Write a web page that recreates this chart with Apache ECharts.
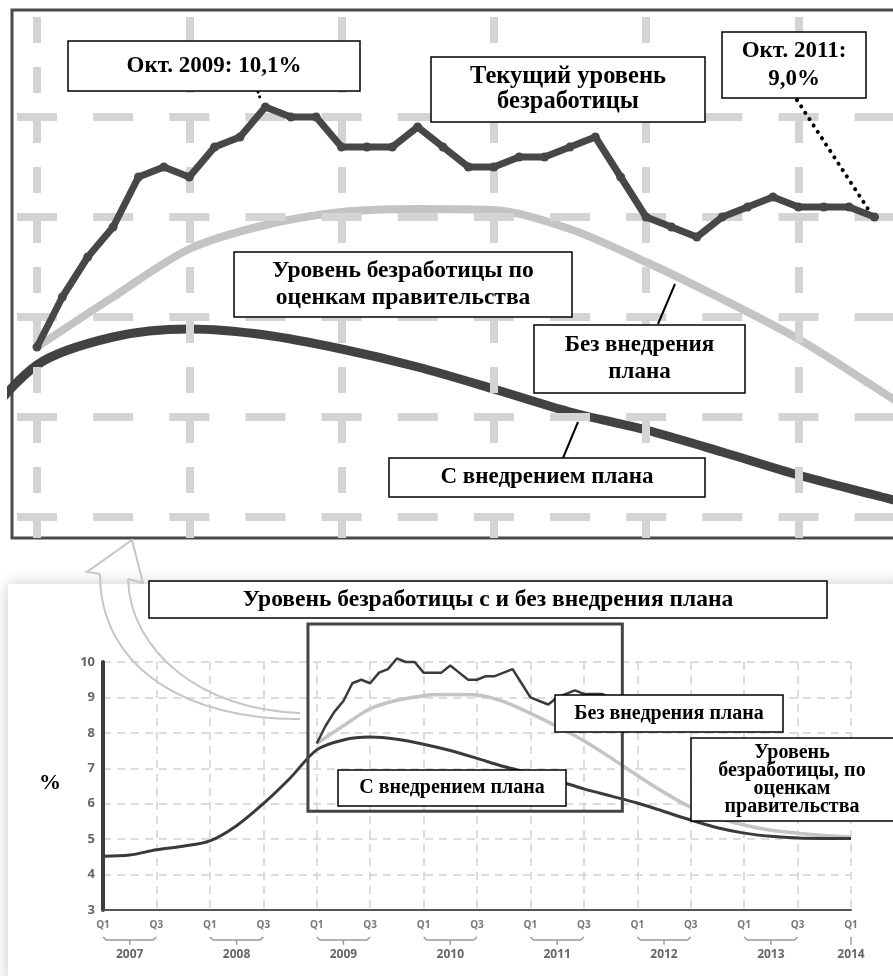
<!DOCTYPE html>
<html>
<head>
<meta charset="utf-8">
<script src="https://cdn.jsdelivr.net/npm/echarts@6/dist/echarts.min.js"></script>
<style>
  html, body { margin: 0; padding: 0; background: #fff; }
  #main { width: 893px; height: 976px; }
</style>
</head>
<body>
<div id="main"></div>
<script>
// годы в долях: 2007 = Q1 2007, 2007.5 = Q3 2007
var quarterX = [2007, 2007.25, 2007.5, 2007.75, 2008, 2008.25, 2008.5, 2008.75,
  2009, 2009.25, 2009.5, 2009.75, 2010, 2010.25, 2010.5, 2010.75,
  2011, 2011.25, 2011.5, 2011.75, 2012, 2012.25, 2012.5, 2012.75,
  2013, 2013.25, 2013.5, 2013.75, 2014];
// С внедрением плана
var withPlan = [4.52, 4.55, 4.7, 4.8, 4.95, 5.38, 6.0, 6.72,
  7.52, 7.8, 7.88, 7.82, 7.68, 7.5, 7.28, 7.05,
  6.87, 6.65, 6.42, 6.22, 6.02, 5.78, 5.54, 5.32,
  5.17, 5.08, 5.03, 5.02, 5.02];
// Без внедрения плана (с Q1 2009)
var noPlanX = quarterX.slice(8);
var noPlan = [7.7, 8.2, 8.68, 8.92, 9.05, 9.08, 9.07, 8.88,
  8.55, 8.18, 7.78, 7.3, 6.8, 6.32, 5.9, 5.6,
  5.4, 5.25, 5.17, 5.1, 5.06];
// Текущий уровень безработицы, помесячно с января 2009
var actualStart = 2009;
var actual = [7.7, 8.2, 8.6, 8.9, 9.4, 9.5, 9.4, 9.7, 9.8, 10.1, 10.0, 10.0,
  9.7, 9.7, 9.7, 9.9, 9.7, 9.5, 9.5, 9.6, 9.6, 9.7, 9.8, 9.4,
  9.0, 8.9, 8.8, 9.0, 9.1, 9.2, 9.1, 9.1, 9.1, 9.0];
var years = [2007, 2008, 2009, 2010, 2011, 2012, 2013, 2014];
// увеличенный фрагмент (верхний график)
var zoomX = [2008.918, 2011.86];
var zoomY = [5.79, 11.07];
var topGridX = [2009, 2009.5, 2010, 2010.5, 2011, 2011.5];
var topGridY = [6, 7, 8, 9, 10];

function pairs(xs, ys) {
  return ys.map(function (v, i) { return [xs[i], v]; });
}
var withPlanData = pairs(quarterX, withPlan);
var noPlanData = pairs(noPlanX, noPlan);
var actualData = actual.map(function (v, i) { return [actualStart + i / 12, v]; });

// скобки под подписями кварталов
var bracketData = [];
years.slice(0, -1).forEach(function (y) {
  bracketData.push([y, 0.5], [y + 0.03, 0], [y + 0.47, 0], [y + 0.5, 0.5], [y + 0.5, '-'],
    [y + 0.25, 0], [y + 0.25, -0.8], [y + 0.25, '-']);
});
bracketData.push([2014, 0.5], [2014, -0.8]);

var chart = echarts.init(document.getElementById('main'));

var dark = '#424242';
var light = '#c4c4c4';
var serif = '"Liberation Serif", "Times New Roman", serif';

function font(size) { return 'bold ' + size + 'px ' + serif; }

function box(id, x, y, w, h, text, size, lh, tx) {
  return {
    type: 'group', id: id,
    children: [
      { type: 'rect', z: 100, shape: { x: x, y: y, width: w, height: h },
        style: { fill: '#fff', stroke: '#000', lineWidth: 1.5 } },
      { type: 'text', z: 101,
        style: { text: text, x: tx || x + w / 2, y: y + h / 2, textAlign: 'center',
          textVerticalAlign: 'middle', verticalAlign: 'middle',
          font: font(size), fill: '#000', lineHeight: lh || size } }
    ]
  };
}

function gridMarks() {
  var d = [];
  topGridX.forEach(function (v) {
    d.push({ xAxis: v, lineStyle: { type: [26, 24], dashOffset: 5 } });
  });
  topGridY.forEach(function (v) {
    d.push({ yAxis: v, lineStyle: { type: [40, 36.15], dashOffset: -5 } });
  });
  return d;
}

var option = {
  animation: false,
  backgroundColor: '#fff',
  grid: [
    { left: 12, top: 10, right: -15, bottom: 438, show: true, borderColor: '#4a4a4a',
      borderWidth: 3, backgroundColor: 'rgba(0,0,0,0)', outerBoundsMode: 'none', containLabel: false },
    { left: 103, top: 662, right: 42, bottom: 66, outerBoundsMode: 'none', containLabel: false },
    { left: 103, top: 934, right: 42, height: 12, outerBoundsMode: 'none', containLabel: false }
  ],
  xAxis: [
    { type: 'value', gridIndex: 0, min: zoomX[0], max: zoomX[1], show: false },
    { type: 'value', gridIndex: 1, min: 2007, max: 2014, interval: 0.5,
      axisLine: { show: true, onZero: false, lineStyle: { color: '#555', width: 2 } },
      axisTick: { show: false },
      axisLabel: { margin: 10, fontSize: 10, fontWeight: 'bold', color: '#777', fontFamily: 'Open Sans',
        formatter: function (v) { return (v % 1 === 0) ? 'Q1' : 'Q3'; } },
      splitLine: { show: true, lineStyle: { color: '#d2d2d2', width: 1.5, type: [8, 6] } } },
    { type: 'value', gridIndex: 2, min: 2007, max: 2014, interval: 0.25,
      axisLine: { show: false }, axisTick: { show: false }, splitLine: { show: false },
      axisLabel: { margin: 3, fontSize: 12, fontWeight: 'bold', color: '#666', fontFamily: 'Open Sans',
        formatter: function (v) {
          var f = v - Math.floor(v);
          if (Math.abs(f - 0.25) < 1e-6) return String(Math.floor(v));
          if (v === 2014) return '2014';
          return '';
        } } }
  ],
  yAxis: [
    { type: 'value', gridIndex: 0, min: zoomY[0], max: zoomY[1], show: false },
    { type: 'value', gridIndex: 1, min: 3, max: 10, interval: 1,
      axisLine: { show: true, lineStyle: { color: '#3c3c3c', width: 4 } },
      axisTick: { show: false },
      axisLabel: { margin: 8, fontSize: 13, fontWeight: 'bold', color: '#666', fontFamily: 'Open Sans' },
      splitLine: { show: true, lineStyle: { color: '#d2d2d2', width: 1.5, type: [8, 6] } } },
    { type: 'value', gridIndex: 2, min: -1, max: 1, show: false }
  ],
  series: [
    // сетка верхнего графика
    { type: 'line', xAxisIndex: 0, yAxisIndex: 0, z: 1, data: noPlanData, symbol: 'none',
      lineStyle: { opacity: 0 }, silent: true,
      markLine: { silent: true, symbol: 'none', label: { show: false },
        lineStyle: { color: '#d4d4d4', width: 8 }, data: gridMarks() } },
    { type: 'line', xAxisIndex: 0, yAxisIndex: 0, z: 3, data: noPlanData, symbol: 'none',
      smooth: 0.3, lineStyle: { color: light, width: 8 } },
    { type: 'line', xAxisIndex: 0, yAxisIndex: 0, z: 4, data: withPlanData, symbol: 'none',
      smooth: 0.3, lineStyle: { color: dark, width: 9 } },
    { type: 'line', xAxisIndex: 0, yAxisIndex: 0, z: 5, data: actualData, symbol: 'circle',
      symbolSize: 9, itemStyle: { color: '#474747' }, lineStyle: { color: '#474747', width: 7 } },
    // нижний график
    { type: 'line', xAxisIndex: 1, yAxisIndex: 1, z: 3, data: noPlanData, symbol: 'none',
      smooth: 0.3, clip: false, lineStyle: { color: light, width: 3.5 } },
    { type: 'line', xAxisIndex: 1, yAxisIndex: 1, z: 4, data: withPlanData, symbol: 'none',
      smooth: 0.3, clip: false, lineStyle: { color: '#3a3a3a', width: 3 } },
    { type: 'line', xAxisIndex: 1, yAxisIndex: 1, z: 5, data: actualData, symbol: 'none',
      clip: false, lineStyle: { color: '#3a3a3a', width: 2.5 } },
    { type: 'line', xAxisIndex: 2, yAxisIndex: 2, data: bracketData, symbol: 'none',
      connectNulls: false, clip: false, lineStyle: { color: '#9a9a9a', width: 1.5 } }
  ]
};
chart.setOption(option);

// рамка увеличенного фрагмента на нижнем графике
var p1 = chart.convertToPixel({ gridIndex: 1 }, [zoomX[0], zoomY[1]]);
var p2 = chart.convertToPixel({ gridIndex: 1 }, [zoomX[1], zoomY[0]]);

var arrowStyle = { fill: 'none', stroke: '#c6c6c6', lineWidth: 2 };

chart.setOption({
  graphic: [
    { type: 'rect', id: 'panel', z: -1, shape: { x: 8, y: 584, width: 900, height: 400 },
      style: { fill: '#fff', shadowBlur: 14, shadowColor: 'rgba(0,0,0,0.22)' } },
    // изогнутая стрелка
    { type: 'polyline', id: 'arrowHead', z: 1,
      shape: { points: [[128, 579], [143, 583], [132, 540], [87, 572], [100, 574]] },
      style: arrowStyle },
    { type: 'bezierCurve', id: 'arrowIn', z: 1,
      shape: { x1: 128, y1: 579, cpx1: 130, cpy1: 650, cpx2: 200, cpy2: 710, x2: 300, y2: 713 },
      style: arrowStyle },
    { type: 'bezierCurve', id: 'arrowOut', z: 1,
      shape: { x1: 300, y1: 719, cpx1: 190, cpy1: 720, cpx2: 100, cpy2: 670, x2: 100, y2: 574 },
      style: arrowStyle },
    { type: 'rect', id: 'zoombox', z: 50,
      shape: { x: p1[0], y: p1[1], width: p2[0] - p1[0], height: p2[1] - p1[1] },
      style: { fill: 'none', stroke: '#444', lineWidth: 3 } },
    { type: 'line', id: 'dot1', z: 99, shape: { x1: 258, y1: 92, x2: 261, y2: 101 },
      style: { stroke: '#000', lineWidth: 3, lineDash: [0.1, 5], lineCap: 'round' } },
    { type: 'line', id: 'dot2', z: 99, shape: { x1: 797, y1: 100, x2: 870, y2: 212 },
      style: { stroke: '#000', lineWidth: 4, lineDash: [0.1, 7.5], lineCap: 'round' } },
    { type: 'line', id: 'lead1', z: 99, shape: { x1: 675, y1: 284, x2: 658, y2: 324 },
      style: { stroke: '#000', lineWidth: 2 } },
    { type: 'line', id: 'lead2', z: 99, shape: { x1: 578, y1: 422, x2: 563, y2: 458 },
      style: { stroke: '#000', lineWidth: 2 } },
    box('b1', 68, 41, 292, 50, 'Окт. 2009: 10,1%', 23),
    box('b2', 431, 57, 274, 65, 'Текущий уровень\nбезработицы', 24.5, 25),
    box('b3', 722, 32, 144, 66, 'Окт. 2011:\n9,0%', 23, 28),
    box('b4', 234, 252, 338, 65, 'Уровень безработицы по\nоценкам правительства', 23.5, 27),
    box('b5', 534, 325, 211, 68, 'Без внедрения\nплана', 23, 27),
    box('b6', 389, 458, 316, 39, 'С внедрением плана', 23),
    box('b7', 149, 581, 678, 37, 'Уровень безработицы с и без внедрения плана', 23.5),
    box('b8', 555, 695, 228, 37, 'Без внедрения плана', 20),
    box('b9', 338, 770, 228, 36, 'С внедрением плана', 20),
    box('b10', 691, 738, 210, 83, 'Уровень\nбезработицы, по\nоценкам\nправительства', 20, 18, 792),
    { type: 'text', id: 'pct', z: 101,
      style: { text: '%', x: 50, y: 783, textAlign: 'center', textVerticalAlign: 'middle',
        verticalAlign: 'middle', font: font(22), fill: '#000' } }
  ]
});
</script>
</body>
</html>
